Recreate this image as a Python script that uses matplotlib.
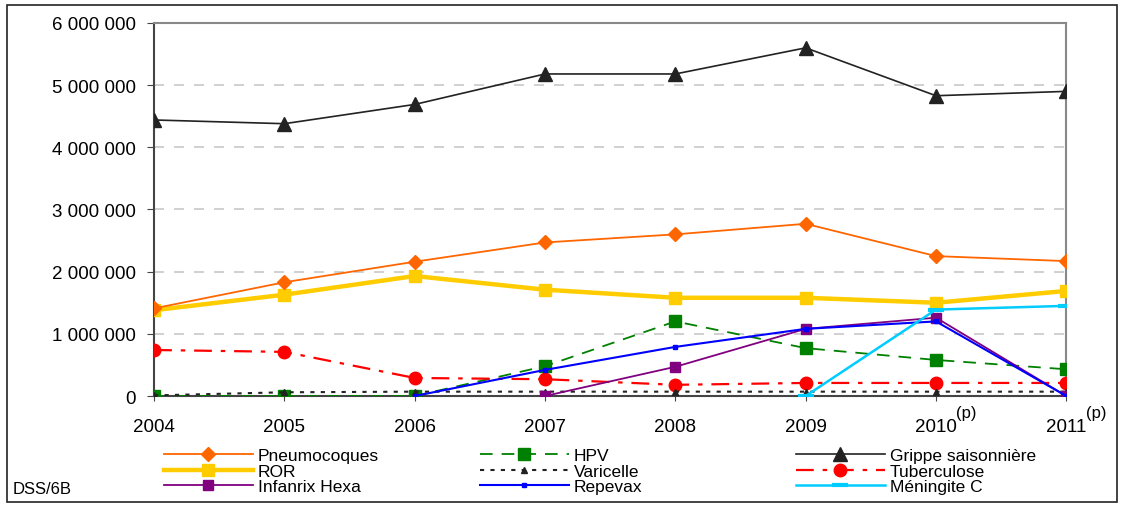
import matplotlib.pyplot as plt
import numpy as np
from matplotlib.patches import Rectangle
from matplotlib.ticker import FuncFormatter

plt.rcParams['font.family'] = ['Liberation Sans', 'DejaVu Sans']

years = [2004, 2005, 2006, 2007, 2008, 2009, 2010, 2011]
year_labels = ['2004', '2005', '2006', '2007', '2008', '2009', '2010', '2011']
provisional = [2010, 2011]

grippe = [4440000, 4380000, 4690000, 5180000, 5180000, 5600000, 4830000, 4900000]
pneumo = [1410000, 1830000, 2160000, 2470000, 2600000, 2770000, 2250000, 2170000]
ror = [1380000, 1630000, 1930000, 1710000, 1580000, 1580000, 1500000, 1690000]
hpv = [0, 0, 0, 480000, 1200000, 770000, 580000, 430000]
tuberculose = [740000, 710000, 290000, 270000, 180000, 210000, 210000, 210000]
varicelle = [10000, 60000, 70000, 70000, 70000, 70000, 70000, 70000]
infanrix_years = [2007, 2008, 2009, 2010, 2011]
infanrix = [0, 470000, 1080000, 1260000, 0]
repevax_years = [2006, 2007, 2008, 2009, 2010, 2011]
repevax = [0, 420000, 790000, 1080000, 1200000, 0]
meningite_years = [2009, 2010, 2011]
meningite = [0, 1390000, 1450000]

fig = plt.figure(figsize=(11.25, 5.06), dpi=100)
ax = fig.add_axes([0.137, 0.2154, 0.8108, 0.7372])

ax.plot(years, grippe, color='#222222', lw=1.2, marker='^', ms=10, label='Grippe saisonnière', zorder=5)
ax.plot(years, pneumo, color='#FF6600', lw=1.3, marker='D', ms=7, label='Pneumocoques', zorder=5)
ax.plot(years, ror, color='#FFCC00', lw=3.2, marker='s', ms=8, label='ROR', zorder=4)
ax.plot(years, hpv, color='#008000', lw=1.3, ls=(0, (7, 5)), marker='s', ms=8, label='HPV', zorder=5)
ax.plot(years, tuberculose, color='#FF0000', lw=1.6, ls=(0, (8, 4, 2, 4)), marker='o', ms=9, label='Tuberculose', zorder=5)
ax.plot(years, varicelle, color='#222222', lw=1.5, ls=(0, (2, 3)), marker='^', ms=4, label='Varicelle', zorder=5)
ax.plot(infanrix_years, infanrix, color='#800080', lw=1.3, marker='s', ms=7, label='Infanrix Hexa', zorder=6)
ax.plot(repevax_years, repevax, color='#0000FF', lw=1.5, marker='s', ms=3.5, label='Repevax', zorder=6)
ax.plot(meningite_years, meningite, color='#00CCFF', lw=1.8, marker='_', ms=12, mew=3, label='Méningite C', zorder=6)

ax.set_xlim(2004, 2011)
ax.set_ylim(0, 6000000)
ax.set_xticks(years)
ax.set_xticklabels(year_labels)
ax.set_yticks(np.arange(0, 6000001, 1000000))
ax.yaxis.set_major_formatter(FuncFormatter(lambda v, p: '{:,.0f}'.format(v).replace(',', ' ')))
ax.tick_params(axis='y', labelsize=13.5, length=5, pad=8, color='#444444')
ax.tick_params(axis='x', labelsize=13.5, length=3.5, pad=12, color='#444444')
ax.grid(axis='y', color='#c8c8c8', ls=(0, (6, 6)), lw=1.2)
ax.set_axisbelow(True)
for side in ['top', 'right']:
    ax.spines[side].set_color('#888888')
    ax.spines[side].set_linewidth(1.5)
for side in ['left', 'bottom']:
    ax.spines[side].set_color('#444444')
    ax.spines[side].set_linewidth(1.5)

# "(p)" = provisional, placed like a superscript after the year label
for yr in provisional:
    ax.annotate('(p)', xy=(yr, 0), xytext=(14.5, -12), textcoords='offset points',
                xycoords=('data', 'axes fraction'), ha='left', va='center',
                fontsize=12, annotation_clip=False)

handles, labels = ax.get_legend_handles_labels()
hmap = dict(zip(labels, handles))
cols = [(['Pneumocoques', 'ROR', 'Infanrix Hexa'], 0.1458),
        (['HPV', 'Varicelle', 'Repevax'], 0.4267),
        (['Grippe saisonnière', 'Tuberculose', 'Méningite C'], 0.7076)]
for names, x0 in cols:
    fig.legend([hmap[n] for n in names], names, loc='upper left',
               bbox_to_anchor=(x0, 0.112), frameon=False, fontsize=12.5,
               handlelength=5.1, handletextpad=0.3, labelspacing=0.0,
               borderaxespad=0, borderpad=0)

fig.text(0.011, 0.024, 'DSS/6B', fontsize=12)
fig.patches.append(Rectangle((0.006, 0.006), 0.987, 0.982, transform=fig.transFigure,
                             fill=False, ec='#222222', lw=1.2))

fig.savefig('out.png', dpi=100)
